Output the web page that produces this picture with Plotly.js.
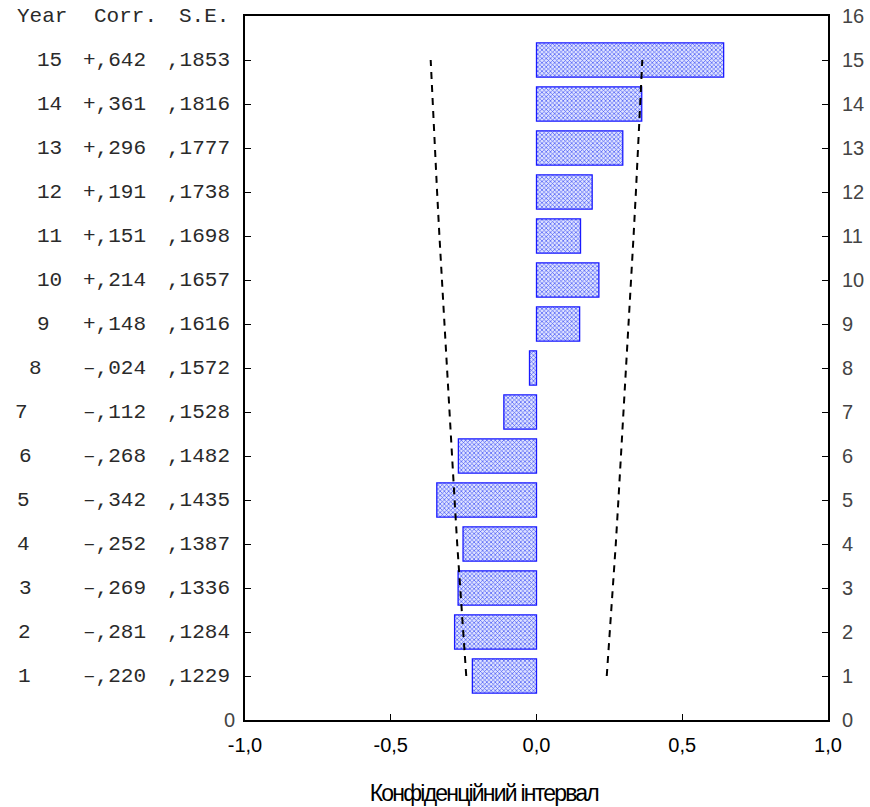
<!DOCTYPE html>
<html><head><meta charset="utf-8">
<script src="https://cdn.plot.ly/plotly-3.0.1.min.js"></script>
<style>body{margin:0;background:#fff}#c{width:870px;height:807px}</style>
</head><body><div id="c"></div>
<script>
const years = [1,2,3,4,5,6,7,8,9,10,11,12,13,14,15];
const corr = [-0.220,-0.281,-0.269,-0.252,-0.342,-0.268,-0.112,-0.024,0.148,0.214,0.151,0.191,0.296,0.361,0.642];
const se = [0.1229,0.1284,0.1336,0.1387,0.1435,0.1482,0.1528,0.1572,0.1616,0.1657,0.1698,0.1738,0.1777,0.1816,0.1853];
const upperLimit = [0.241,0.252,0.262,0.272,0.281,0.290,0.299,0.308,0.317,0.325,0.333,0.341,0.348,0.356,0.363];
const lowerLimit = [-0.241,-0.252,-0.262,-0.272,-0.281,-0.290,-0.299,-0.308,-0.317,-0.325,-0.333,-0.341,-0.348,-0.356,-0.363];
const headerText = ['Year','Corr.','S.E.'];
const xTitle = 'Конфіденційний інтервал';
const xTickVals = [-1,-0.5,0,0.5,1];
const xTickText = ['-1,0','-0,5','0,0','0,5','1,0'];

// style: left pixel of year labels
const yearLeftPx = [16,16,17,15,15,17,13,27,35,35,35,35,35,35,35];

const W = 870, L = 245, R = 42, T = 16, B = 87;
const plotW = W - L - R;
const px = p => (p - L) / plotW;

function fmtCorr(v){
  const s = Math.abs(v).toFixed(3).replace('0.', ',');
  return (v >= 0 ? '+' : '–') + s;
}
function fmtSe(v){ return v.toFixed(4).replace('0.', ','); }

const monoFont = {family:'"Liberation Mono", "Courier New", monospace', size:21, color:'#2a2a2a'};
const annotations = [];
years.forEach((y,i)=>{
  annotations.push({xref:'paper', yref:'y', x:px(yearLeftPx[i]), y:y, xanchor:'left', yanchor:'middle', text:String(y), showarrow:false, font:monoFont});
  annotations.push({xref:'paper', yref:'y', x:px(148), y:y, xanchor:'right', yanchor:'middle', text:fmtCorr(corr[i]), showarrow:false, font:monoFont});
  annotations.push({xref:'paper', yref:'y', x:px(232), y:y, xanchor:'right', yanchor:'middle', text:fmtSe(se[i]), showarrow:false, font:monoFont});
});
annotations.push({xref:'paper', yref:'y', x:px(15), y:16, xanchor:'left', yanchor:'middle', text:headerText[0], showarrow:false, font:monoFont});
annotations.push({xref:'paper', yref:'y', x:px(159), y:16, xanchor:'right', yanchor:'middle', text:headerText[1], showarrow:false, font:monoFont});
annotations.push({xref:'paper', yref:'y', x:px(231), y:16, xanchor:'right', yanchor:'middle', text:headerText[2], showarrow:false, font:monoFont});
const titleIndex = annotations.length;
annotations.push({xref:'paper', yref:'paper', x:px(484), y:-0.104, xanchor:'center', yanchor:'middle', text:xTitle, showarrow:false,
  font:{family:'"Liberation Sans", Arial, sans-serif', size:23, color:'#000'}});

const traces = [
  {type:'bar', orientation:'h', x:corr, y:years, width:0.78,
   marker:{color:'#c0c8ff', line:{color:'#1a1aff', width:1.3},
     pattern:{shape:'x', fgcolor:'#4455f5', bgcolor:'#dfe3ff', size:3, solidity:0.4}},
   hoverinfo:'none'},
  {type:'scatter', mode:'lines', x:lowerLimit, y:years, line:{color:'#000', width:2, dash:'7px,6px'}, hoverinfo:'none'},
  {type:'scatter', mode:'lines', x:upperLimit, y:years, line:{color:'#000', width:2, dash:'7px,6px'}, hoverinfo:'none'},
  {type:'scatter', mode:'markers', x:[0], y:[0], yaxis:'y2', marker:{opacity:0}, hoverinfo:'none'}
];

const tickFont = {family:'"Liberation Sans", Arial, sans-serif', size:20, color:'#444'};
const allTicks = [0,1,2,3,4,5,6,7,8,9,10,11,12,13,14,15,16];
const layout = {
  width:870, height:807, margin:{l:L, r:R, t:T, b:B},
  paper_bgcolor:'#fff', plot_bgcolor:'#fff', showlegend:false,
  separators:', ',
  xaxis:{range:[-1,1], tickvals:xTickVals, ticktext:xTickText,
    ticks:'inside', ticklen:6, tickwidth:1, tickcolor:'#000', showline:true, linecolor:'#000', linewidth:2,
    mirror:true, showgrid:false, zeroline:false, ticklabelstandoff:6,
    tickfont:{family:'"Liberation Sans", Arial, sans-serif', size:20, color:'#000'}},
  yaxis:{range:[0,16], tickvals:allTicks, ticktext:allTicks.map(v=> v===0 ? '0' : ''),
    ticks:'inside', ticklen:6, tickwidth:1, tickcolor:'#000', showline:true, linecolor:'#000', linewidth:2,
    showgrid:false, zeroline:false, tickfont:tickFont, ticklabelstandoff:4},
  yaxis2:{range:[0,16], overlaying:'y', side:'right', tickvals:allTicks,
    ticks:'inside', ticklen:6, tickwidth:1, tickcolor:'#000', showline:true, linecolor:'#000', linewidth:2,
    showgrid:false, zeroline:false, tickfont:tickFont, ticklabelstandoff:8},
  annotations:annotations
};
Plotly.newPlot('c', traces, layout, {displayModeBar:false, staticPlot:true}).then(gd=>{
  const t = gd.querySelector('.annotation[data-index="'+titleIndex+'"] text');
  if (t) t.style.letterSpacing = '-1.8px';
});
</script></body></html>
